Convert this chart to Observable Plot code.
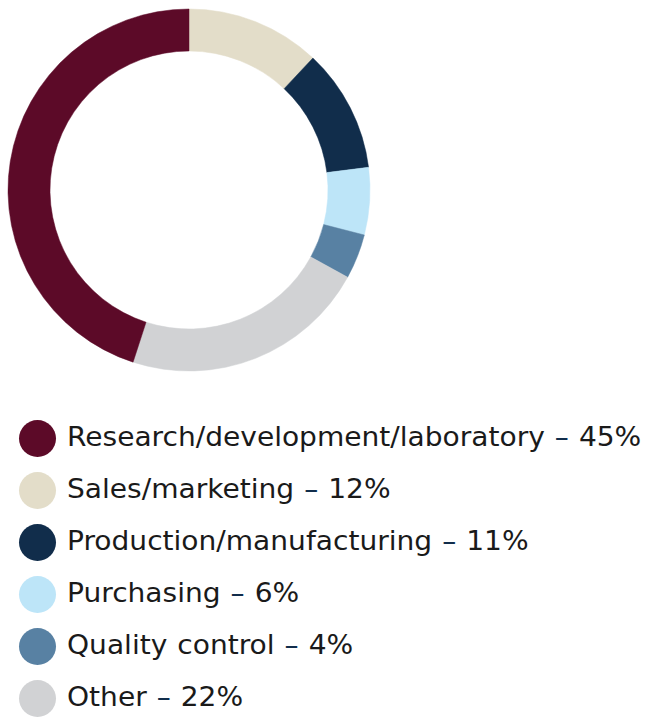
<!DOCTYPE html>
<html>
<head>
<meta charset="utf-8">
<script src="https://cdn.jsdelivr.net/npm/d3@7"></script>
<script src="https://cdn.jsdelivr.net/npm/@observablehq/plot@0.6"></script>
<style>
  html, body { margin: 0; padding: 0; background: #fff; }
  #chart svg { display: block; }
</style>
</head>
<body>
<div id="chart"></div>
<script>
// Data
const categories = ["Research/development/laboratory", "Sales/marketing", "Production/manufacturing", "Purchasing", "Quality control", "Other"];
const shares = [45, 12, 11, 6, 4, 22];
const colors = ["#5c0a28", "#e3ddc9", "#112d4b", "#bde5f8", "#5881a3", "#d1d2d4"];
// donut drawing order, clockwise from 12 o'clock
const pieOrder = ["Sales/marketing", "Production/manufacturing", "Purchasing", "Quality control", "Other", "Research/development/laboratory"];

const rows = categories.map((c, i) => ({category: c, share: shares[i]}));
const pieRows = pieOrder.map(c => rows.find(r => r.category === c));

const W = 669, H = 719;
const cx = 189, cy = 190, rOuter = 181, rInner = 139;
const textX = 67, stretch = 1.08;

function donut(index, scales, values, dimensions, context) {
  const pie = d3.pie().value(d => d.share).sort(null);
  const arc = d3.arc().innerRadius(rInner).outerRadius(rOuter);
  const g = d3.create("svg:g").attr("transform", `translate(${cx},${cy})`);
  g.selectAll("path")
    .data(pie(pieRows))
    .join("path")
    .attr("d", arc)
    .attr("fill", d => scales.color(d.data.category))
    .attr("stroke", d => scales.color(d.data.category))
    .attr("stroke-width", 0.5);
  return g.node();
}

const chart = Plot.plot({
  width: W,
  height: H,
  margin: 0,
  x: {type: "identity", axis: null},
  y: {type: "point", domain: categories, range: [437, 698.5], padding: 0, axis: null},
  color: {domain: categories, range: colors},
  style: {fontFamily: "'DejaVu Sans', sans-serif", background: "#fff"},
  marks: [
    donut,
    Plot.dot(rows, {x: () => 37, y: "category", fill: "category", r: 18.5, stroke: null}),
    Plot.text(rows, {
      x: () => textX,
      y: "category",
      text: d => `${d.category} – ${d.share}%`,
      textAnchor: "start",
      fontSize: 26,
      fill: "#1a1a1a",
      render(index, scales, values, dimensions, context, next) {
        const g = next(index, scales, values, dimensions, context);
        const sel = d3.select(g);
        sel.attr("transform", `translate(${textX},0) scale(${stretch},1) translate(${-textX},0)`)
           .style("word-spacing", "1px");
        sel.selectAll("text").each(function(i) {
          const d = rows[i];
          const t = d3.select(this);
          t.text(null);
          t.append("tspan").text(d.category + " ");
          t.append("tspan").attr("fill", "#112d4b").text("–");
          t.append("tspan").text(" " + d.share + "%");
        });
        return g;
      }
    })
  ]
});
document.getElementById("chart").appendChild(chart);
</script>
</body>
</html>
